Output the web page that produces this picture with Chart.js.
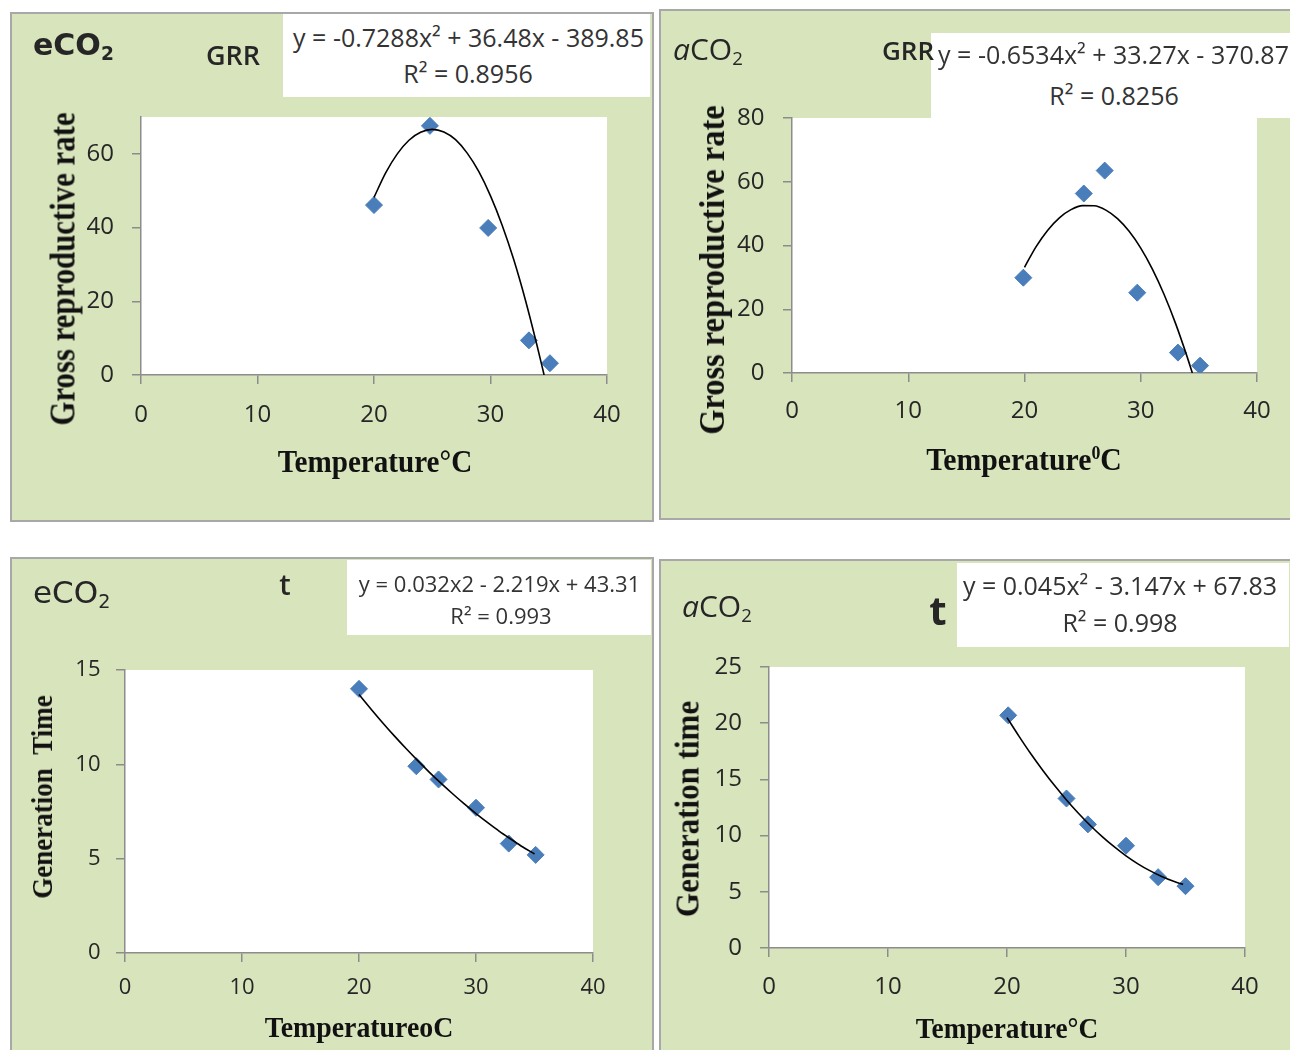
<!DOCTYPE html>
<html><head><meta charset="utf-8">
<script src="https://cdn.jsdelivr.net/npm/chart.js@4/dist/chart.umd.min.js"></script>
<style>
html,body{margin:0;padding:0;background:#fff;}
body{width:1290px;height:1050px;position:relative;overflow:hidden;}
.panel{position:absolute;background:#d8e4bc;border:2px solid #a8a8a8;box-sizing:border-box;}
canvas{position:absolute;}
.t{position:absolute;white-space:nowrap;line-height:1;z-index:5;color:#262626;}
.box{position:absolute;background:#fff;z-index:4;}
.eq{font-family:"Open Sans",sans-serif;color:#333;}
.ax{font-family:"Liberation Serif","Times New Roman",serif;font-weight:bold;color:#111;}
sub{font-size:0.62em;vertical-align:-0.28em;line-height:0;}
</style></head>
<body>
<div class="panel" style="left:10px;top:12px;width:644px;height:510px"></div>
<div class="panel" style="left:659px;top:9px;width:640px;height:511px"></div>
<div class="panel" style="left:10px;top:557px;width:644px;height:510px"></div>
<div class="panel" style="left:659px;top:559px;width:640px;height:510px"></div>
<canvas id="c1"></canvas><canvas id="c2"></canvas><canvas id="c3"></canvas><canvas id="c4"></canvas>
<div id="overlay"></div>
<script>
// ---------- data ----------
const xTicks = [0, 10, 20, 30, 40];
// Panel 1: eCO2, gross reproductive rate
const tempGrrE = [20.0, 24.8, 29.8, 33.3, 35.1];
const grrE = [46.1, 67.6, 39.9, 9.4, 3.2];
const trendTempGrrE = [20, 21, 22, 23, 24, 25, 26, 27, 28, 29, 30, 31, 32, 33, 34, 34.6];
const trendGrrE = [48.2, 54.85, 60.0, 63.7, 65.85, 66.65, 65.95, 63.85, 60.2, 55.15, 48.6, 40.65, 31.25, 20.3, 7.95, 0];
const yTicksGrrE = [0, 20, 40, 60];
// Panel 2: aCO2, gross reproductive rate
const tempGrrA = [19.9, 25.1, 26.9, 29.7, 33.2, 35.1];
const grrA = [29.9, 56.3, 63.5, 25.2, 6.4, 2.3];
const trendTempGrrA = [20, 21, 22, 23, 24, 25, 26, 27, 28, 29, 30, 31, 32, 33, 34, 34.44];
const trendGrrA = [33.17, 39.65, 44.82, 48.69, 51.25, 52.5, 52.45, 51.09, 48.42, 44.45, 39.17, 32.58, 24.69, 15.49, 4.98, 0];
const yTicksGrrA = [0, 20, 40, 60, 80];
// Panel 3: eCO2, generation time
const tempGtE = [20.0, 24.9, 26.8, 30.0, 32.8, 35.1];
const gtE = [14.0, 9.9, 9.2, 7.7, 5.8, 5.2];
const trendTempGtE = [20, 21, 22, 23, 24, 25, 26, 27, 28, 29, 30, 31, 32, 33, 34, 35];
const trendGtE = [13.7, 12.95, 12.22, 11.52, 10.85, 10.21, 9.59, 9.0, 8.44, 7.90, 7.39, 6.91, 6.45, 6.03, 5.62, 5.25];
const yTicksGtE = [0, 5, 10, 15];
// Panel 4: aCO2, generation time
const tempGtA = [20.1, 25.0, 26.8, 30.0, 32.7, 35.0];
const gtA = [20.7, 13.3, 11.0, 9.1, 6.3, 5.5];
const trendTempGtA = [20, 21, 22, 23, 24, 25, 26, 27, 28, 29, 30, 31, 32, 33, 34, 34.8];
const trendGtA = [20.5, 18.85, 17.28, 15.82, 14.45, 13.17, 11.99, 10.9, 9.91, 9.01, 8.20, 7.49, 6.88, 6.36, 5.93, 5.66];
const yTicksGtA = [0, 5, 10, 15, 20, 25];

// ---------- layout ----------
const panels = [
  {id:'c1', rect:[10,12,644,510], plot:[141,117,607,375], xs:tempGrrE, ys:grrE, tx:trendTempGrrE, ty:trendGrrE, yTicks:yTicksGrrE, yMax:70, fs:24, xPad:16.5, yPad:18},
  {id:'c2', rect:[659,9,640,511], plot:[792,118,1257,373], xs:tempGrrA, ys:grrA, tx:trendTempGrrA, ty:trendGrrA, yTicks:yTicksGrrA, yMax:80, fs:24, xPad:14.5, yPad:18.5},
  {id:'c3', rect:[10,557,644,510], plot:[125,670,593,953], xs:tempGtE, ys:gtE, tx:trendTempGtE, ty:trendGtE, yTicks:yTicksGtE, yMax:15, fs:22, xPad:13, yPad:15.5},
  {id:'c4', rect:[659,559,640,510], plot:[769,667,1245,948], xs:tempGtA, ys:gtA, tx:trendTempGtA, ty:trendGtA, yTicks:yTicksGtA, yMax:25, fs:24, xPad:16, yPad:18}
];

const whiteArea = {
  id:'whiteArea',
  beforeDraw(chart){
    const a = chart.chartArea, ctx = chart.ctx;
    ctx.save(); ctx.fillStyle = '#ffffff';
    ctx.fillRect(a.left, a.top, a.right - a.left, a.bottom - a.top);
    ctx.restore();
  }
};

const AX = '#8c8c8c';
panels.forEach(p => {
  const [rx, ry, rw, rh] = p.rect;
  const [pl, pt, pr, pb] = p.plot;
  const cv = document.getElementById(p.id);
  cv.width = rw; cv.height = rh;
  cv.style.left = rx + 'px'; cv.style.top = ry + 'px';
  cv.style.width = rw + 'px'; cv.style.height = rh + 'px';
  const tickFont = {family:'"Open Sans", sans-serif', size:p.fs};
  new Chart(cv, {
    type:'scatter',
    data:{datasets:[
      {type:'line', data:p.tx.map((x,i)=>({x:x, y:p.ty[i]})), borderColor:'#000', borderWidth:1.6,
       pointRadius:0, pointHoverRadius:0, cubicInterpolationMode:'monotone', fill:false},
      {data:p.xs.map((x,i)=>({x:x, y:p.ys[i]})), pointStyle:'rectRot', pointRadius:8.5, pointHoverRadius:8.5,
       backgroundColor:'#4a7ebb', borderColor:'#4a7ebb', borderWidth:1}
    ]},
    options:{
      responsive:false, animation:false, devicePixelRatio:1,
      events:[],
      layout:{padding:{left:0, top:pt - ry, right:(rx + rw) - pr, bottom:0}},
      plugins:{legend:{display:false}, tooltip:{enabled:false}},
      scales:{
        x:{type:'linear', min:0, max:40,
           afterBuildTicks:s=>{ s.ticks = xTicks.map(v=>({value:v})); },
           afterFit:s=>{ s.height = (ry + rh) - pb; },
           ticks:{font:tickFont, color:'#262626', padding:p.xPad, maxRotation:0, autoSkip:false},
           grid:{drawOnChartArea:false, drawTicks:true, tickLength:9, color:AX, lineWidth:1.5},
           border:{display:true, color:AX, width:1.5}},
        y:{type:'linear', min:0, max:p.yMax,
           afterBuildTicks:s=>{ s.ticks = p.yTicks.map(v=>({value:v})); },
           afterFit:s=>{ s.width = pl - rx; },
           ticks:{font:tickFont, color:'#262626', padding:p.yPad, autoSkip:false},
           grid:{drawOnChartArea:false, drawTicks:true, tickLength:9, color:AX, lineWidth:1.5},
           border:{display:true, color:AX, width:1.5}}
      }
    },
    plugins:[whiteArea]
  });
});

// ---------- text overlays ----------
const ov = document.getElementById('overlay');
function box(x1, y1, x2, y2){
  const d = document.createElement('div'); d.className = 'box';
  d.style.cssText = `left:${x1}px;top:${y1}px;width:${x2-x1}px;height:${y2-y1}px`;
  ov.appendChild(d);
}
function centered(html, cx, cy, css, cls){
  const d = document.createElement('div'); d.className = 't ' + (cls||'');
  d.innerHTML = html;
  d.style.cssText = `left:${cx}px;top:${cy}px;transform:translate(-50%,-50%);` + css;
  ov.appendChild(d);
}
function leftAt(html, x, cy, css){
  const d = document.createElement('div'); d.className = 't';
  d.innerHTML = html;
  d.style.cssText = `left:${x}px;top:${cy}px;transform:translateY(-50%);` + css;
  ov.appendChild(d);
}
function xTitle(text, cx, baseline, fs, sx){
  const d = document.createElement('div'); d.className = 't ax';
  d.innerHTML = text;
  d.style.cssText = `left:${cx}px;top:${baseline - 0.8375*fs}px;font-size:${fs}px;transform-origin:center top;transform:translateX(-50%) scaleX(${sx});`;
  ov.appendChild(d);
}
function yTitle(text, baselineX, cy, fs, sx){
  const cx = baselineX - 0.3375*fs;
  const d = document.createElement('div'); d.className = 't ax';
  d.innerHTML = text;
  d.style.cssText = `left:${cx}px;top:${cy}px;font-size:${fs}px;transform:translate(-50%,-50%) rotate(-90deg) scaleX(${sx});`;
  ov.appendChild(d);
}

// equation boxes
box(283, 14, 650, 97);
box(931, 33, 1290, 118);
box(347, 560, 651, 635);
box(957, 563, 1289, 647);

// panel 1
leftAt('eCO<sub>2</sub>', 33, 45, 'font-family:"DejaVu Sans",sans-serif;font-weight:bold;font-size:30px;');
leftAt('GRR', 206, 54, 'font-family:"Open Sans",sans-serif;font-weight:600;font-size:27px;');
centered('y = -0.7288x² + 36.48x - 389.85', 468.5, 36.5, 'font-size:25px;', 'eq');
centered('R² = 0.8956', 468, 72.5, 'font-size:25px;', 'eq');
yTitle('Gross reproductive rate', 75, 269, 35, 0.88);
xTitle('Temperature°C', 375, 472, 32, 0.91);

// panel 2
leftAt('<i>a</i>CO<sub>2</sub>', 673, 49, 'font-family:"Open Sans",sans-serif;font-size:30px;');
leftAt('GRR', 882, 50, 'font-family:"Open Sans",sans-serif;font-weight:600;font-size:26px;');
centered('y = -0.6534x² + 33.27x - 370.87', 1113.5, 53.5, 'font-size:25px;', 'eq');
centered('R² = 0.8256', 1114, 95, 'font-size:25px;', 'eq');
yTitle('Gross reproductive rate', 724, 269.5, 36, 0.9);
xTitle('Temperature<sup style="font-size:0.6em;vertical-align:0.55em;line-height:0">0</sup>C', 1023.5, 470, 32, 0.93);

// panel 3
leftAt('eCO<sub>2</sub>', 33, 592, 'font-family:"DejaVu Sans",sans-serif;font-size:31px;');
centered('t', 285, 583, 'font-family:"Open Sans",sans-serif;font-weight:600;font-size:29px;');
centered('y = 0.032x2 - 2.219x + 43.31', 499.5, 582.5, 'font-size:22px;', 'eq');
centered('R² = 0.993', 501, 615, 'font-size:22px;', 'eq');
yTitle('Generation&nbsp;&nbsp;Time', 52, 796.5, 30, 0.9);
xTitle('TemperatureoC', 359, 1037, 29, 0.96);

// panel 4
leftAt('<i>a</i>CO<sub>2</sub>', 682, 606, 'font-family:"Open Sans",sans-serif;font-size:30px;');
centered('t', 938, 610, 'font-family:"Open Sans",sans-serif;font-weight:bold;font-size:40px;');
centered('y = 0.045x² - 3.147x + 67.83', 1120, 585, 'font-size:25px;', 'eq');
centered('R² = 0.998', 1120, 622, 'font-size:25px;', 'eq');
yTitle('Generation time', 699.5, 808.5, 33, 0.94);
xTitle('Temperature°C', 1007, 1038, 30, 0.91);
</script>
</body></html>
